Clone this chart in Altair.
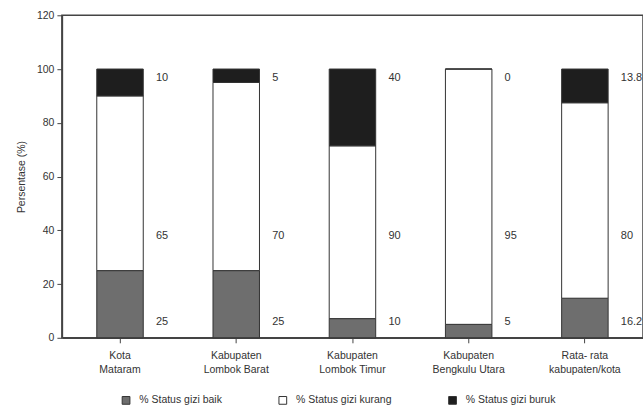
import altair as alt
import pandas as pd

# Nutritional status shares per district (percent values as printed on the chart)
kabupaten = [
    "Kota|Mataram",
    "Kabupaten|Lombok Barat",
    "Kabupaten|Lombok Timur",
    "Kabupaten|Bengkulu Utara",
    "Rata- rata|kabupaten/kota",
]
gizi_baik = [25, 25, 10, 5, 16.2]
gizi_kurang = [65, 70, 90, 95, 80]
gizi_buruk = [10, 5, 40, 0, 13.8]

status_keys = ["baik", "kurang", "buruk"]
status_names = ["% Status gizi baik", "% Status gizi kurang", "% Status gizi buruk"]
status_colors = ["#6e6e6e", "#ffffff", "#1e1e1e"]

rows = []
for i, kab in enumerate(kabupaten):
    for rank, (key, name, series) in enumerate(
        zip(status_keys, status_names, [gizi_baik, gizi_kurang, gizi_buruk])
    ):
        rows.append({"kab": kab, "status": name, "key": key, "rank": rank, "value": series[i]})
df = pd.DataFrame(rows)

FONT = "Liberation Sans"
TEXT = "#333333"
AXIS = "#444444"

base = alt.Chart(df).transform_joinaggregate(
    total="sum(value)", groupby=["kab"]
).transform_calculate(
    pct="datum.value / datum.total * 100"
)

x_enc = alt.X(
    "kab:N",
    sort=kabupaten,
    scale=alt.Scale(paddingInner=0.6, paddingOuter=0.3),
    axis=alt.Axis(
        title=None,
        labelAngle=0,
        labelExpr="split(datum.label, '|')",
        labelFont=FONT,
        labelFontSize=10.5,
        labelColor=TEXT,
        labelLineHeight=14,
        labelPadding=8,
        tickSize=5,
        tickColor=AXIS,
        domainColor=AXIS,
        domainWidth=1.5,
    ),
)

bars = base.mark_bar(stroke="#333333", strokeWidth=1).encode(
    x=x_enc,
    y=alt.Y(
        "pct:Q",
        stack="zero",
        scale=alt.Scale(domain=[0, 120], nice=False),
        axis=alt.Axis(
            title="Persentase (%)",
            values=[0, 20, 40, 60, 80, 100, 120],
            grid=False,
            labelFont=FONT,
            labelFontSize=10.5,
            labelColor=TEXT,
            labelPadding=3,
            tickSize=5,
            tickColor=AXIS,
            domainColor=AXIS,
            domainWidth=1.5,
            titleFont=FONT,
            titleFontSize=10.5,
            titleFontWeight="normal",
            titleColor=TEXT,
            titlePadding=10,
        ),
    ),
    color=alt.Color(
        "status:N",
        scale=alt.Scale(domain=status_names, range=status_colors),
        legend=alt.Legend(
            title=None,
            orient="none",
            direction="horizontal",
            legendX=59,
            legendY=380,
            symbolType="square",
            symbolSize=60,
            symbolStrokeColor="#333333",
            symbolStrokeWidth=1,
            labelFont=FONT,
            labelFontSize=10.5,
            labelColor=TEXT,
            columnPadding=54,
            labelOffset=8,
        ),
    ),
    order=alt.Order("rank:Q", sort="ascending"),
)

# Value labels sit beside each bar: buruk near the top, kurang mid-height, baik at the foot
labels = base.transform_calculate(
    level="datum.key == 'baik' ? 6 : (datum.key == 'kurang' ? 38 : 96.5)"
).mark_text(
    align="left", baseline="middle", dx=36, font=FONT, fontSize=11, color=TEXT
).encode(
    x=alt.X("kab:N", sort=kabupaten),
    y=alt.Y("level:Q"),
    text=alt.Text("value:Q", format="~g"),
)

chart = (
    alt.layer(bars, labels)
    .properties(
        width=582,
        height=323,
        autosize=alt.AutoSizeParams(type="none"),
        padding={"left": 62, "top": 15, "right": 0, "bottom": 74},
        background="white",
    )
    .configure_view(stroke=AXIS, strokeWidth=1.5)
)

chart.save("out.html", embed_options={"renderer": "svg", "actions": False})
